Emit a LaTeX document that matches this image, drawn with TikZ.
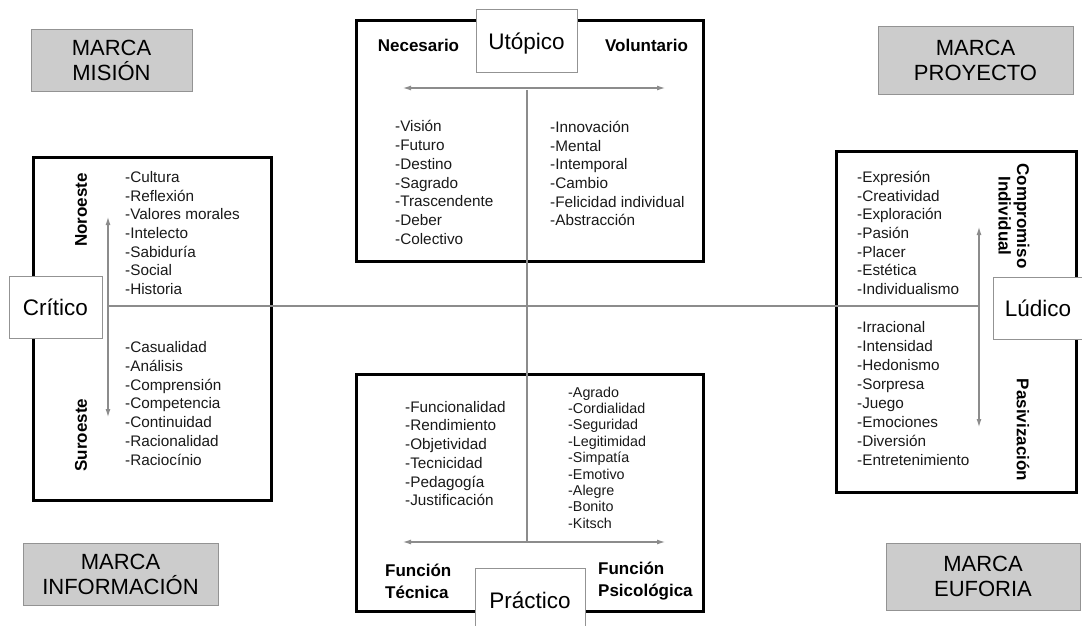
\documentclass[tikz,border=0pt]{standalone}
\usepackage{fontspec}
\setmainfont{Liberation Sans}
\usetikzlibrary{positioning, arrows.meta}

\begin{document}
\begin{tikzpicture}[x=1pt, y=-1pt,
                >={Latex[length=8pt,width=5pt]},
                framenode/.style={rectangle, draw=black, line width=2.4pt, inner sep=0pt},
                tagnode/.style={rectangle, draw=gray!85, fill=white, line width=0.8pt, inner sep=0pt, font=\fontsize{22.5}{27}\selectfont},
                marcanode/.style={rectangle, draw=gray!85, fill=black!20, line width=0.8pt, inner sep=0pt, align=center, font=\fontsize{22}{25}\selectfont},
                itemlist/.style={anchor=west, align=left, inner sep=0pt, text=black!90, font=\fontsize{15.3}{18.7}\selectfont},
                axislabel/.style={inner sep=0pt, align=center, font=\bfseries\fontsize{17}{18.5}\selectfont},
                axisline/.style={draw=gray!90, line width=1.1pt},
                ]
                \useasboundingbox (0,0) rectangle (1082,626);

                %Frames
                \node[framenode, minimum width=347pt, minimum height=241pt] (topframe)   at (530,141)   {};
                \node[framenode, minimum width=238pt, minimum height=343pt] (leftframe)  at (152.5,329) {};
                \node[framenode, minimum width=240pt, minimum height=341pt] (rightframe) at (956.5,322) {};
                \node[framenode, minimum width=347pt, minimum height=237pt] (botframe)   at (530,493)   {};

                %Axis ends
                \coordinate (topL)   at (403,88);
                \coordinate (topR)   at (665,88);
                \coordinate (topmid) at (527,90);
                \coordinate (botL)   at (403,542);
                \coordinate (botR)   at (665,542);
                \coordinate (botmid) at (527,542);
                \coordinate (leftT)  at (108,217);
                \coordinate (leftB)  at (108,417);
                \coordinate (leftmid) at (108,306);
                \coordinate (rightT) at (979,227);
                \coordinate (rightB) at (979,427);
                \coordinate (rightmid) at (979,306);

                %Lines
                \draw[axisline, <->] (topL) -- (topR);
                \draw[axisline, <->] (botL) -- (botR);
                \draw[axisline, <->] (leftT) -- (leftB);
                \draw[axisline, <->] (rightT) -- (rightB);
                \draw[axisline] (topmid) -- (botmid);
                \draw[axisline] (leftmid) -- (rightmid);

                %Nodes
                \node[tagnode, minimum width=101pt, minimum height=63pt, text height=19pt, text depth=1pt] (utopico)  at (526.5,40.5)  {Utópico};
                \node[tagnode, minimum width=93pt,  minimum height=62pt] (critico)  at (55.5,307)  {Crítico};
                \node[tagnode, minimum width=90pt,  minimum height=62pt] (ludico)   at (1038,308)  {Lúdico};
                \node[tagnode, minimum width=110pt, minimum height=64pt] (practico) at (530,600)   {Práctico};

                \node[marcanode, minimum width=161pt, minimum height=62pt] (mision)      at (111.5,60)  {MARCA\\MISIÓN};
                \node[marcanode, minimum width=195pt, minimum height=68pt] (proyecto)    at (975.5,60)  {MARCA\\PROYECTO};
                \node[marcanode, minimum width=195pt, minimum height=62pt] (informacion) at (120.5,574) {MARCA\\INFORMACIÓN};
                \node[marcanode, minimum width=194pt, minimum height=67pt] (euforia)     at (983,576.5) {MARCA\\EUFORIA};

                \node[axislabel] (necesario)   at (418.5,45) {Necesario};
                \node[axislabel] (voluntario)  at (646.5,45) {Voluntario};
                \node[axislabel, rotate=90]  (noroeste)    at (81,210)   {Noroeste};
                \node[axislabel, rotate=90]  (suroeste)    at (81,435)   {Suroeste};
                \node[axislabel, rotate=-90] (compromiso)  at (1014,216) {Compromiso\\Individual};
                \node[axislabel, rotate=-90] (pasivizacion) at (1023,430) {Pasivización};
                \node[axislabel, anchor=west, align=left, font=\bfseries\fontsize{17}{22}\selectfont] (tecnica)     at (385,581) {Función\\Técnica};
                \node[axislabel, anchor=west, align=left, font=\bfseries\fontsize{17}{22}\selectfont] (psicologica) at (598,581) {Función\\Psicológica};

                \node[itemlist] (necesariolist) at (395,182.5) {-Visión\\-Futuro\\-Destino\\-Sagrado\\-Trascendente\\-Deber\\-Colectivo};
                \node[itemlist] (voluntariolist) at (550,173.5) {-Innovación\\-Mental\\-Intemporal\\-Cambio\\-Felicidad individual\\-Abstracción};
                \node[itemlist] (noroestelist) at (125,233) {-Cultura\\-Reflexión\\-Valores morales\\-Intelecto\\-Sabiduría\\-Social\\-Historia};
                \node[itemlist] (suroestelist) at (125,403.5) {-Casualidad\\-Análisis\\-Comprensión\\-Competencia\\-Continuidad\\-Racionalidad\\-Raciocínio};
                \node[itemlist] (compromisolist) at (857,233) {-Expresión\\-Creatividad\\-Exploración\\-Pasión\\-Placer\\-Estética\\-Individualismo};
                \node[itemlist, font=\fontsize{15.3}{19}\selectfont] (pasivizacionlist) at (857,393.5) {-Irracional\\-Intensidad\\-Hedonismo\\-Sorpresa\\-Juego\\-Emociones\\-Diversión\\-Entretenimiento};
                \node[itemlist] (tecnicalist) at (405,453.5) {-Funcionalidad\\-Rendimiento\\-Objetividad\\-Tecnicidad\\-Pedagogía\\-Justificación};
                \node[itemlist, font=\fontsize{14.3}{16.4}\selectfont] (psicologicalist) at (568,457.5) {-Agrado\\-Cordialidad\\-Seguridad\\-Legitimidad\\-Simpatía\\-Emotivo\\-Alegre\\-Bonito\\-Kitsch};
\end{tikzpicture}
\end{document}
